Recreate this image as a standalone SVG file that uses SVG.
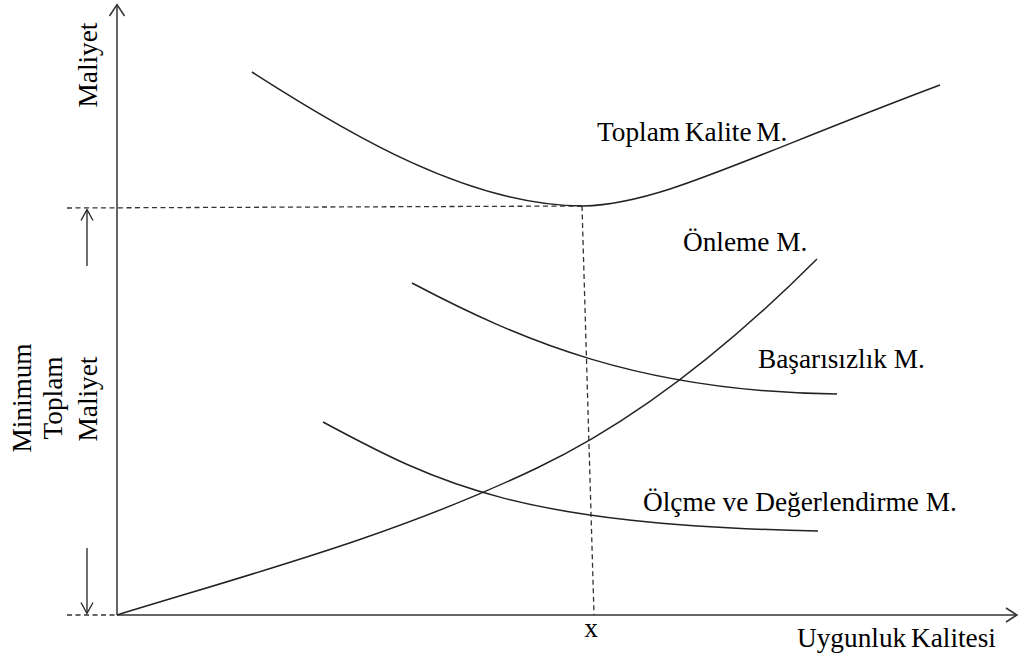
<svg xmlns="http://www.w3.org/2000/svg" width="1021" height="660" viewBox="0 0 1021 660">
<style>
.ax{stroke:#333;stroke-width:1.5;fill:none}
.cv{stroke:#222;stroke-width:1.5;fill:none}
.ds{stroke:#333;stroke-width:1.3;fill:none;stroke-dasharray:5 3.5}
.ar{stroke:#222;stroke-width:1.3;fill:none}
text{font-family:"Liberation Serif","Times New Roman",serif;font-size:27.3px;fill:#000}
</style>
<rect width="1021" height="660" fill="#fff"/>
<g id="axes">
<line class="ax" x1="117" y1="615" x2="117" y2="5"/>
<polyline class="ax" points="109.5,16 117,4.5 124.5,16"/>
<line class="ax" x1="117" y1="615" x2="1016" y2="615"/>
<polyline class="ax" points="1006,608 1017,615 1006,622"/>
</g>
<g id="guides">
<line class="ds" x1="67" y1="208" x2="583" y2="206"/>
<line class="ds" x1="582" y1="206" x2="594" y2="615"/>
<line class="ds" x1="67" y1="615" x2="117" y2="615"/>
</g>
<g id="min-arrows">
<line class="ar" x1="87" y1="266" x2="87" y2="210"/>
<polyline class="ar" points="81,220.5 87,209.5 93,220.5"/>
<line class="ar" x1="87" y1="548" x2="87" y2="613"/>
<polyline class="ar" points="81,602.5 87,613.5 93,602.5"/>
</g>
<g id="curves">
<path id="toplam" class="cv" d="M252,72 C350,135 470,206 583,206 C660,204 740,160 940,85"/>
<path id="onleme" class="cv" d="M117,615 C257,572 397,535 537,468 C630,424 724,352 817,259"/>
<path id="basarisizlik" class="cv" d="M412,283 C520,340 640,392 837,394"/>
<path id="olcme" class="cv" d="M323,422 C440,485 520,525 818,531"/>
</g>
<g id="labels">
<text x="597" y="141" word-spacing="-2">Toplam Kalite M.</text>
<text x="683" y="251">Önleme M.</text>
<text x="758" y="368">Başarısızlık M.</text>
<text x="643" y="511">Ölçme ve Değerlendirme M.</text>
<text x="591" y="637" text-anchor="middle">x</text>
<text x="797" y="647" word-spacing="-2">Uygunluk Kalitesi</text>
<text transform="translate(97,65) rotate(-90)" text-anchor="middle">Maliyet</text>
<text transform="translate(31,398) rotate(-90)" text-anchor="middle">Minimum</text>
<text transform="translate(62,398) rotate(-90)" text-anchor="middle">Toplam</text>
<text transform="translate(97,399) rotate(-90)" text-anchor="middle">Maliyet</text>
</g>
</svg>
